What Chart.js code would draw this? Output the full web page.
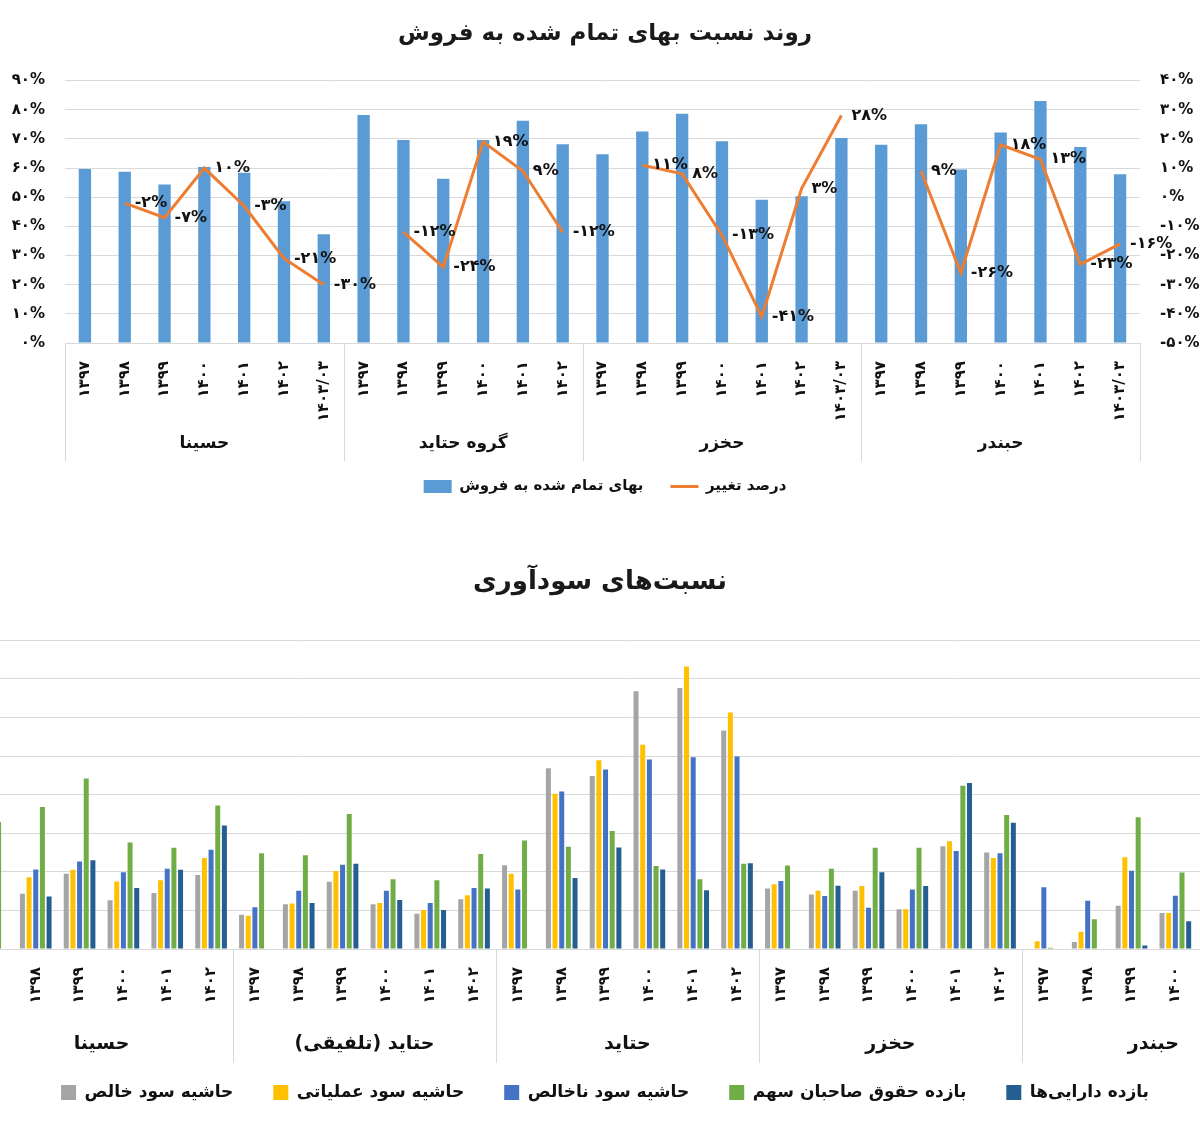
<!DOCTYPE html>
<html>
<head>
<meta charset="utf-8">
<script src="https://cdn.jsdelivr.net/npm/chart.js@4"></script>
<style>
  html, body { margin: 0; padding: 0; background: #fff; }
  body { width: 1200px; height: 1127px; overflow: hidden; position: relative; }
  #c1 { position: absolute; left: 0; top: 0; }
  #c2 { position: absolute; left: -30px; top: 520px; }
</style>
</head>
<body>
<canvas id="c1" width="1200" height="520"></canvas>
<canvas id="c2" width="1321" height="607"></canvas>
<script>
// ---------- DATA: chart 1 (cost of sales ratio) ----------
const topTitle = 'روند نسبت بهای تمام شده به فروش';
const topGroups = ['حسینا', 'گروه حتاید', 'حخزر', 'حبندر'];
const topGroupSizes = [7, 6, 7, 7];
const topYears = [
  '۱۳۹۷', '۱۳۹۸', '۱۳۹۹', '۱۴۰۰', '۱۴۰۱', '۱۴۰۲', '۱۴۰۳/۰۳',
  '۱۳۹۷', '۱۳۹۸', '۱۳۹۹', '۱۴۰۰', '۱۴۰۱', '۱۴۰۲',
  '۱۳۹۷', '۱۳۹۸', '۱۳۹۹', '۱۴۰۰', '۱۴۰۱', '۱۴۰۲', '۱۴۰۳/۰۳',
  '۱۳۹۷', '۱۳۹۸', '۱۳۹۹', '۱۴۰۰', '۱۴۰۱', '۱۴۰۲', '۱۴۰۳/۰۳'
];
const costRatioLabel = 'بهای تمام شده به فروش';
const costRatio = [
  59.7, 58.7, 54.4, 60.4, 58.4, 48.6, 37.3,
  78.2, 69.6, 56.3, 69.6, 76.2, 68.2,
  64.7, 72.5, 78.6, 69.2, 49.1, 50.3, 70.3,
  68.0, 75.0, 59.5, 72.2, 83.0, 67.2, 57.9
];
const changeLabel = 'درصد تغییر';
const changePct = [
  null, -2, -7, 10, -3, -21, -30,
  null, -12, -24, 19, 9, -12,
  null, 11, 8, -13, -41, 3, 28,
  null, 9, -26, 18, 13, -23, -16
];

// ---------- DATA: chart 2 (profitability ratios) ----------
const botTitle = 'نسبت‌های سودآوری';
const botGroups = ['حسینا', 'حتاید (تلفیقی)', 'حتاید', 'حخزر', 'حبندر'];
const botGroupSizes = [6, 6, 6, 6, 6];
const botYears = [
  '۱۳۹۷', '۱۳۹۸', '۱۳۹۹', '۱۴۰۰', '۱۴۰۱', '۱۴۰۲',
  '۱۳۹۷', '۱۳۹۸', '۱۳۹۹', '۱۴۰۰', '۱۴۰۱', '۱۴۰۲',
  '۱۳۹۷', '۱۳۹۸', '۱۳۹۹', '۱۴۰۰', '۱۴۰۱', '۱۴۰۲',
  '۱۳۹۷', '۱۳۹۸', '۱۳۹۹', '۱۴۰۰', '۱۴۰۱', '۱۴۰۲',
  '۱۳۹۷', '۱۳۹۸', '۱۳۹۹', '۱۴۰۰', '۱۴۰۱', '۱۴۰۲'
];
const seriesNames = ['حاشیه سود خالص', 'حاشیه سود عملیاتی', 'حاشیه سود ناخالص', 'بازده حقوق صاحبان سهم', 'بازده دارایی‌ها'];
const netMargin = [
  null, 14.3, 19.5, 12.6, 14.5, 19.2,
  8.9, 11.6, 17.4, 11.6, 9.1, 12.9,
  21.7, 46.8, 44.8, 66.8, 67.6, 56.6,
  15.7, 14.1, 15.1, 10.3, 26.6, 25.0,
  0, 1.8, 11.2, 9.3, null, null
];
const operatingMargin = [
  null, 18.6, 20.5, 17.5, 17.8, 23.6,
  8.6, 11.8, 20.2, 11.9, 10.1, 13.9,
  19.5, 40.2, 48.9, 52.9, 73.2, 61.3,
  16.8, 15.1, 16.3, 10.3, 27.9, 23.6,
  2.0, 4.5, 23.8, 9.3, null, null
];
const grossMargin = [
  null, 20.6, 22.7, 19.9, 20.8, 25.7,
  10.8, 15.1, 21.8, 15.1, 11.9, 15.8,
  15.4, 40.8, 46.5, 49.1, 49.7, 49.9,
  17.6, 13.7, 10.7, 15.4, 25.4, 24.8,
  16.0, 12.5, 20.3, 13.8, null, null
];
const roe = [
  32.9, 36.8, 44.2, 27.6, 26.2, 37.2,
  24.8, 24.3, 35.0, 18.1, 17.8, 24.6,
  28.1, 26.5, 30.6, 21.5, 18.1, 22.1,
  21.6, 20.8, 26.2, 26.2, 42.3, 34.7,
  0.3, 7.7, 34.1, 19.8, null, null
];
const roa = [
  null, 13.6, 23.0, 15.8, 20.5, 32.0,
  null, 11.9, 22.1, 12.7, 10.1, 15.7,
  null, 18.4, 26.3, 20.6, 15.2, 22.2,
  null, 16.4, 19.9, 16.3, 43.0, 32.7,
  null, null, 0.9, 7.2, null, null
];

// ---------- helpers ----------
const FA = '۰۱۲۳۴۵۶۷۸۹';
const toFa = v => String(v).replace(/\d/g, d => FA[d]);
const FONT = "'DejaVu Sans', 'Noto Sans', sans-serif";
Chart.defaults.font.family = FONT;
Chart.defaults.color = '#111';
const GRID = '#d9d9d9';

const groupAxisPlugin = {
  id: 'groupAxis',
  afterDraw(chart, args, o) {
    if (!o || !o.sizes) return;
    const xs = chart.scales.x, ca = chart.chartArea, ctx = chart.ctx;
    const half = (xs.getPixelForValue(1) - xs.getPixelForValue(0)) / 2;
    ctx.save();
    ctx.strokeStyle = GRID; ctx.lineWidth = 1;
    ctx.font = o.font; ctx.fillStyle = '#111';
    ctx.textAlign = 'center'; ctx.textBaseline = 'middle';
    ctx.direction = 'rtl';
    let start = 0;
    const edges = new Set();
    o.sizes.forEach((size, i) => {
      const l = xs.getPixelForValue(start) - half;
      const r = xs.getPixelForValue(start + size - 1) + half;
      edges.add(Math.round(l)); edges.add(Math.round(r));
      ctx.fillText(o.groups[i], (l + r) / 2, ca.bottom + o.labelOffset);
      start += size;
    });
    edges.forEach(x => {
      ctx.beginPath();
      ctx.moveTo(x + 0.5, ca.bottom);
      ctx.lineTo(x + 0.5, ca.bottom + o.sepLen);
      ctx.stroke();
    });
    ctx.restore();
  }
};

const lineLabelPlugin = {
  id: 'lineLabels',
  afterDatasetsDraw(chart, args, o) {
    if (!o || !o.enabled) return;
    const ctx = chart.ctx;
    ctx.save();
    ctx.direction = 'ltr';
    ctx.font = o.font; ctx.fillStyle = '#111';
    ctx.textAlign = 'left'; ctx.textBaseline = 'middle';
    chart.data.datasets.forEach((ds, di) => {
      if (ds.type !== 'line') return;
      const meta = chart.getDatasetMeta(di);
      meta.data.forEach((pt, i) => {
        const v = ds.data[i];
        if (v === null || v === undefined) return;
        ctx.fillText(toFa(v) + '%', pt.x + o.dx, pt.y);
      });
    });
    ctx.restore();
  }
};

const shiftPlugin = {
  id: 'shiftBoxes',
  afterLayout(chart, args, o) {
    if (!o) return;
    if (o.legendDx && chart.legend) { chart.legend.left += o.legendDx; chart.legend.right += o.legendDx; }
    if (o.titleDx && chart.titleBlock) { chart.titleBlock.left += o.titleDx; chart.titleBlock.right += o.titleDx; }
  }
};

// ---------- chart 1 ----------
new Chart(document.getElementById('c1'), {
  data: {
    labels: topYears,
    datasets: [
      {
        type: 'bar', label: costRatioLabel, data: costRatio,
        backgroundColor: '#5B9BD5', borderWidth: 0, yAxisID: 'y', order: 2,
        categoryPercentage: 1, barPercentage: 0.31
      },
      {
        type: 'line', label: changeLabel, data: changePct,
        borderColor: '#ED7D31', backgroundColor: '#ED7D31', borderWidth: 3,
        pointRadius: 0, tension: 0, spanGaps: false, yAxisID: 'y1', order: 1
      }
    ]
  },
  options: {
    responsive: false, animation: false,
    layout: { padding: { left: 10, right: 0, top: 0, bottom: 16 } },
    scales: {
      x: {
        offset: true,
        grid: { display: false },
        border: { display: true, color: GRID },
        ticks: { autoSkip: false, minRotation: 90, maxRotation: 90, padding: 10, color: '#111', font: { size: 15, weight: 'bold' } },
        afterFit: s => { s.height = 109; }
      },
      y: {
        position: 'left', min: 0, max: 90,
        grid: { color: GRID, drawTicks: false },
        border: { display: false },
        ticks: { stepSize: 10, padding: 20, color: '#111', font: { size: 15, weight: 'bold' }, callback: v => toFa(v) + '%' },
        afterFit: s => { s.width = 55; }
      },
      y1: {
        position: 'right', min: -50, max: 40,
        grid: { display: false, drawTicks: false },
        border: { display: false },
        ticks: { stepSize: 10, padding: 20, color: '#111', font: { size: 15, weight: 'bold' }, callback: v => toFa(v) + '%' },
        afterFit: s => { s.width = 60; }
      }
    },
    plugins: {
      title: { display: true, text: topTitle, color: '#1a1a1a', font: { size: 23, weight: 'bold' }, padding: { top: 20, bottom: 33 } },
      legend: {
        position: 'bottom',
        labels: {
          usePointStyle: true, pointStyleWidth: 28, boxHeight: 13, padding: 27,
          color: '#111', font: { size: 15, weight: 'bold' },
          sort: (a, b) => a.datasetIndex - b.datasetIndex,
          generateLabels(chart) {
            const items = Chart.defaults.plugins.legend.labels.generateLabels(chart);
            items.forEach(it => {
              const ds = chart.data.datasets[it.datasetIndex];
              if (ds.type === 'line') { it.pointStyle = 'line'; it.lineWidth = 3; }
              else { it.pointStyle = 'rect'; it.lineWidth = 0; }
            });
            return items;
          }
        }
      },
      tooltip: { enabled: false },
      groupAxis: { groups: topGroups, sizes: topGroupSizes, sepLen: 118, labelOffset: 101, font: 'bold 17px ' + FONT },
      lineLabels: { enabled: true, dx: 10, font: 'bold 16px ' + FONT }
    }
  },
  plugins: [groupAxisPlugin, lineLabelPlugin]
});

// ---------- chart 2 ----------
const botColors = ['#A5A5A5', '#FFC000', '#4472C4', '#70AD47', '#255E91'];
const botSeries = [netMargin, operatingMargin, grossMargin, roe, roa];
new Chart(document.getElementById('c2'), {
  type: 'bar',
  data: {
    labels: botYears,
    datasets: botSeries.map((d, i) => ({
      label: seriesNames[i], data: d, backgroundColor: botColors[i], borderWidth: 0,
      categoryPercentage: 0.76, barPercentage: 0.75
    }))
  },
  options: {
    responsive: false, animation: false,
    layout: { padding: { left: 0, right: 0, top: 0, bottom: 16 } },
    scales: {
      x: {
        offset: true,
        grid: { display: false },
        border: { display: true, color: GRID },
        ticks: { autoSkip: false, minRotation: 90, maxRotation: 90, padding: 10, color: '#111', font: { size: 15, weight: 'bold' } },
        afterFit: s => { s.height = 95; }
      },
      y: {
        min: 0, max: 80,
        grid: { color: GRID, drawTicks: false },
        border: { display: false },
        ticks: { display: false, stepSize: 10 },
        afterFit: s => { s.width = 0; }
      }
    },
    plugins: {
      title: { display: true, text: botTitle, color: '#1a1a1a', font: { size: 26, weight: 'bold' }, padding: { top: 47, bottom: 42 } },
      legend: {
        position: 'bottom',
        labels: { boxWidth: 15, boxHeight: 15, padding: 40, color: '#111', font: { size: 17, weight: 'bold' } }
      },
      tooltip: { enabled: false },
      groupAxis: { groups: botGroups, sizes: botGroupSizes, sepLen: 114, labelOffset: 95, font: 'bold 19px ' + FONT },
      shiftBoxes: { legendDx: -25.5, titleDx: -30.5 }
    }
  },
  plugins: [groupAxisPlugin, shiftPlugin]
});
</script>
</body>
</html>
